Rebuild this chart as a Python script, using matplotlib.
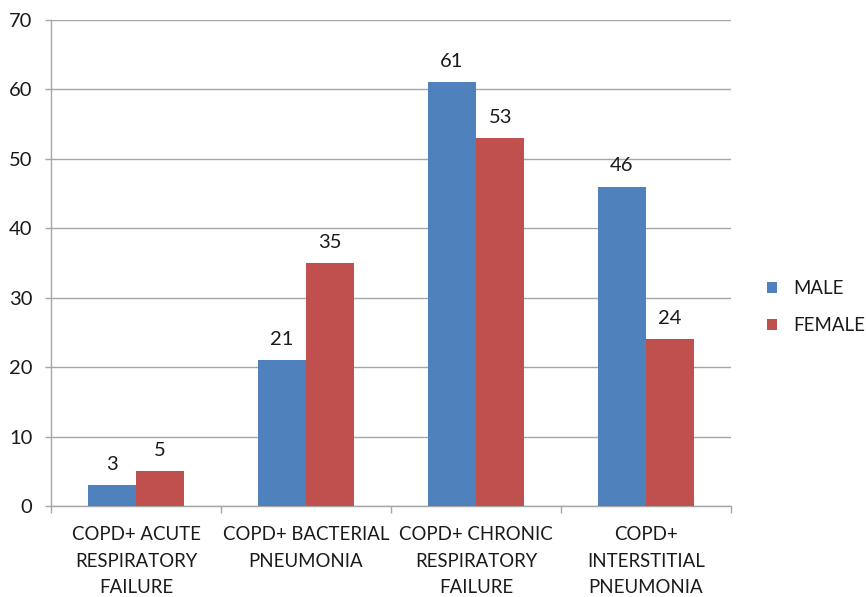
import matplotlib
matplotlib.use("Agg")
import matplotlib.pyplot as plt
import numpy as np

categories = [
    "COPD+ ACUTE\nRESPIRATORY\nFAILURE",
    "COPD+ BACTERIAL\nPNEUMONIA",
    "COPD+ CHRONIC\nRESPIRATORY\nFAILURE",
    "COPD+\nINTERSTITIAL\nPNEUMONIA",
]
male = [3, 21, 61, 46]
female = [5, 35, 53, 24]
series_names = ["MALE", "FEMALE"]
y_ticks = [0, 10, 20, 30, 40, 50, 60, 70]

plt.rcParams["font.family"] = ["Lato", "DejaVu Sans"]
text_color = "#1a1a1a"
grid_color = "#a6a6a6"
colors = ["#4F81BD", "#C0504D"]
fs_num = 14.5
fs_txt = 13.4

fig = plt.figure(figsize=(8.66, 5.97), dpi=100)
ax = fig.add_axes([51 / 866, 1 - 506 / 597, 680 / 866, 486 / 597])

x = np.arange(len(categories))
w = 0.285
bars_m = ax.bar(x - w / 2, male, w, color=colors[0], label=series_names[0], zorder=3)
bars_f = ax.bar(x + w / 2, female, w, color=colors[1], label=series_names[1], zorder=3)

for bars, vals in ((bars_m, male), (bars_f, female)):
    for b, v in zip(bars, vals):
        ax.annotate(str(v), (b.get_x() + b.get_width() / 2, v),
                    xytext=(0, 9), textcoords="offset points",
                    ha="center", va="bottom", fontsize=fs_num, color=text_color)

ax.set_xlim(-0.5, len(categories) - 0.5)
ax.set_ylim(0, 70)
ax.set_yticks(y_ticks)
ax.set_yticklabels([str(t) for t in y_ticks], fontsize=fs_num, color=text_color)
ax.yaxis.grid(True, color=grid_color, linewidth=1, zorder=0)
ax.set_axisbelow(True)

# category labels centred, tick marks on the category boundaries
ax.set_xticks(x)
ax.set_xticklabels(categories, fontsize=fs_txt, color=text_color, linespacing=1.68)
ax.tick_params(axis="x", length=0, pad=14.5)
ax.set_xticks(np.arange(len(categories) + 1) - 0.5, minor=True)
ax.tick_params(axis="x", which="minor", length=5, color=grid_color, width=1)
ax.tick_params(axis="y", length=4.3, color=grid_color, width=1, pad=9)

for s in ("top", "right"):
    ax.spines[s].set_visible(False)
for s in ("left", "bottom"):
    ax.spines[s].set_color(grid_color)
    ax.spines[s].set_linewidth(1)

leg = fig.legend(handles=[bars_m, bars_f], labels=series_names,
                 loc="center left", bbox_to_anchor=(767 / 866, 1 - 307 / 597),
                 frameon=False, borderpad=0, borderaxespad=0,
                 fontsize=fs_txt, handlelength=0.55, handleheight=0.55,
                 handletextpad=0.85, labelspacing=1.05)
for t in leg.get_texts():
    t.set_color(text_color)

fig.savefig("out.png", dpi=100)
